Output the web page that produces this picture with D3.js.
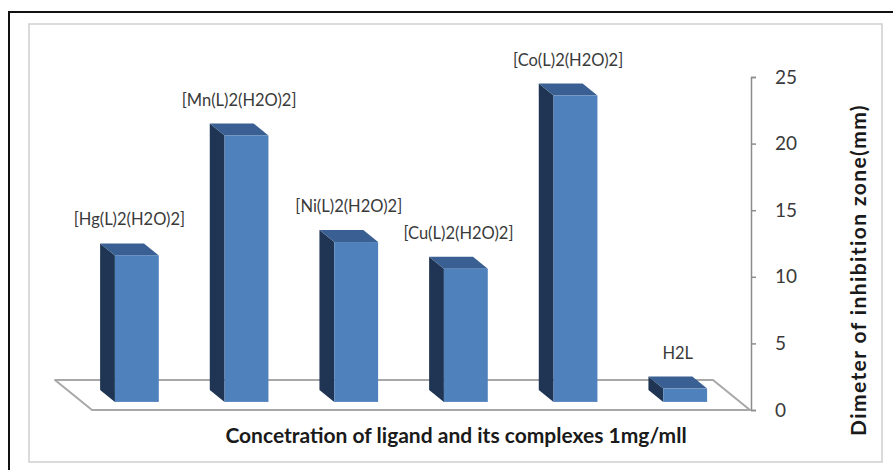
<!DOCTYPE html>
<html>
<head>
<meta charset="utf-8">
<script src="https://cdn.jsdelivr.net/npm/d3@7"></script>
<style>
  body { margin: 0; background: #fff; }
  svg { display: block; font-family: Lato, 'Open Sans', sans-serif; }
</style>
</head>
<body>
<svg id="chart" width="893" height="470"></svg>
<script>
// data
const compounds = ['[Hg(L)2(H2O)2]', '[Mn(L)2(H2O)2]', '[Ni(L)2(H2O)2]', '[Cu(L)2(H2O)2]', '[Co(L)2(H2O)2]', 'H2L']
const zoneDiameter = [11, 20, 12, 10, 23, 1]
const yTicks = [0, 5, 10, 15, 20, 25]
const xTitle = 'Concetration of ligand and its complexes 1mg/mll'
const yTitle = 'Dimeter of inhibition zone(mm)'

const dataset = compounds.map((name, i) => ({ name, value: zoneDiameter[i] }))

const svg = d3.select('#chart')
const width = 893
const height = 470

// frames
svg.append('rect')
  .attr('x', 9).attr('y', 12)
  .attr('width', width).attr('height', height)
  .attr('fill', '#fff').attr('stroke', '#111').attr('stroke-width', 2)

svg.append('rect')
  .attr('x', 29).attr('y', 24)
  .attr('width', 853).attr('height', 438)
  .attr('fill', '#fff').attr('stroke', '#cfcfcf').attr('stroke-width', 1.5)

// oblique 3d: depth vector from front edge of floor to its back edge
const depth = { x: -37, y: -30 }
const frontFrac = 0.27
const backFrac = 0.67

const yScale = d3.scaleLinear().domain([0, 25]).range([410, 77])
const xScale = d3.scaleBand()
  .domain(compounds)
  .range([92, 750])
  .paddingInner(0.6)
  .paddingOuter(0.3)

const base = yScale(0)
const floorLeft = xScale.range()[0]
const floorRight = xScale.range()[1]

// floor
const floorPts = [
  [floorLeft, base],
  [floorRight, base],
  [floorRight + depth.x, base + depth.y],
  [floorLeft + depth.x, base + depth.y],
]
svg.append('polygon')
  .attr('points', floorPts.map(p => p.join(',')).join(' '))
  .attr('fill', 'none')
  .attr('stroke', '#a8a8a8')
  .attr('stroke-width', 2)
  .attr('stroke-linejoin', 'round')

// bars
const fx = depth.x * frontFrac, fy = depth.y * frontFrac
const bx = depth.x * backFrac, by = depth.y * backFrac
const pts = arr => arr.map(p => p.join(',')).join(' ')

const bars = svg.append('g').selectAll('g')
  .data(dataset)
  .join('g')

bars.append('polygon')
  .attr('points', d => {
    const x = xScale(d.name), top = yScale(d.value)
    return pts([[x + fx, top + fy], [x + fx, base + fy], [x + bx, base + by], [x + bx, top + by]])
  })
  .attr('fill', '#1f3553')

bars.append('polygon')
  .attr('points', d => {
    const x = xScale(d.name), w = xScale.bandwidth(), top = yScale(d.value)
    return pts([[x + fx, top + fy], [x + w + fx, top + fy], [x + w + bx, top + by], [x + bx, top + by]])
  })
  .attr('fill', '#3a6093')

bars.append('rect')
  .attr('x', d => xScale(d.name) + fx)
  .attr('y', d => yScale(d.value) + fy)
  .attr('width', xScale.bandwidth())
  .attr('height', d => base - yScale(d.value))
  .attr('fill', '#4f81bd')

// category labels above bars
bars.append('text')
  .attr('x', d => xScale(d.name) + xScale.bandwidth() / 2 + (fx + bx) / 2)
  .attr('y', d => yScale(d.value) + by - 18)
  .attr('text-anchor', 'middle')
  .style('font-size', '16.5px')
  .style('fill', '#3a3a3a')
  .text(d => d.name)

// value axis on the right
const yAxis = d3.axisRight(yScale)
  .tickValues(yTicks)
  .tickSize(5)
  .tickSizeOuter(5)
  .tickPadding(19)

const axisG = svg.append('g')
  .attr('transform', `translate(${floorRight + 1}, 0)`)
  .call(yAxis)
axisG.select('.domain').attr('stroke', '#8c8c8c').attr('stroke-width', 1.5)
axisG.selectAll('.tick line').attr('stroke', '#8c8c8c').attr('stroke-width', 1.5)
axisG.selectAll('.tick text')
  .style('font-size', '19px')
  .style('font-family', 'Lato, sans-serif')
  .attr('fill', '#3a3a3a')

// titles
svg.append('text')
  .attr('x', 456)
  .attr('y', 443)
  .attr('text-anchor', 'middle')
  .style('font-size', '21px')
  .style('font-weight', 'bold')
  .style('fill', '#1a1a1a')
  .text(xTitle)

svg.append('text')
  .attr('transform', 'translate(866, 270) rotate(-90)')
  .attr('text-anchor', 'middle')
  .style('font-size', '21px')
  .style('font-weight', 'bold')
  .style('letter-spacing', '1.4px')
  .style('fill', '#1a1a1a')
  .text(yTitle)
</script>
</body>
</html>
